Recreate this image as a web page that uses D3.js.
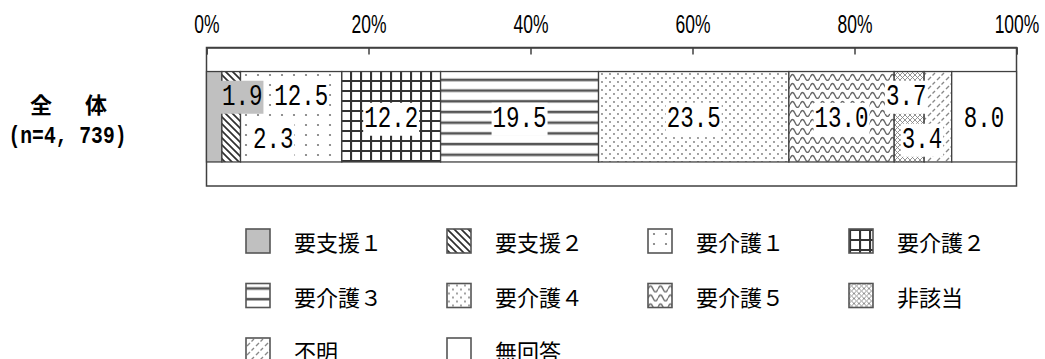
<!DOCTYPE html>
<html>
<head>
<meta charset="utf-8">
<script src="https://cdn.jsdelivr.net/npm/d3@7"></script>
<style>
  body { margin: 0; background: #fff; }
</style>
</head>
<body>
<div id="chart"></div>
<script>
// data
var categories = ["全体"];
var catTitle = "全　体";
var catCount = "(n=4, 739)";
var series = ["要支援１", "要支援２", "要介護１", "要介護２", "要介護３", "要介護４", "要介護５", "非該当", "不明", "無回答"];
var values = [1.9, 2.3, 12.5, 12.2, 19.5, 23.5, 13.0, 3.7, 3.4, 8.0];
var tickValues = [0, 20, 40, 60, 80, 100];
var tickLabels = ["0%", "20%", "40%", "60%", "80%", "100%"];

// hand placed labels for the thin segments (dx, dy from segment centre)
var labelNudge = {0: [28, -22], 1: [42, 21], 2: [10, -22], 7: [-3, -22], 8: [-16, 21]};

var width = 1045, height = 359;

var svg = d3.select("#chart")
  .append("svg")
    .attr("width", width)
    .attr("height", height);

// table for d3.stack
var row = {cat: categories[0]};
series.forEach(function(s, i) { row[s] = values[i]; });
var stacked = d3.stack().keys(series)([row]);

var x = d3.scaleLinear().domain([0, 100]).range([206.5, 1016.5]);
var y = d3.scaleBand().domain(categories).range([47.5, 186]).padding(0.21);

// patterns
var defs = svg.append("defs");
function pattern(id, w, h) {
  var p = defs.append("pattern")
    .attr("id", id)
    .attr("patternUnits", "userSpaceOnUse")
    .attr("width", w)
    .attr("height", h);
  p.append("rect").attr("width", w).attr("height", h).attr("fill", "#fff");
  return p;
}
pattern("p1", 7, 7).append("path")
  .attr("d", "M-1,-1 L8,8 M-1,6 L1,8 M6,-1 L8,1")
  .attr("stroke", "#303030").attr("stroke-width", 1.7);
pattern("p2", 12, 10).append("circle")
  .attr("cx", 6).attr("cy", 5).attr("r", 1.1).attr("fill", "#777");
pattern("p3", 10, 10).append("path")
  .attr("d", "M0,1 H10 M1,0 V10")
  .attr("stroke", "#333").attr("stroke-width", 2.2);
pattern("p4", 10, 10.7).append("path")
  .attr("d", "M0,5 H10")
  .attr("stroke", "#555").attr("stroke-width", 2.6);
var p5 = pattern("p5", 8, 8);
p5.append("circle").attr("cx", 2).attr("cy", 2).attr("r", 0.9).attr("fill", "#777");
p5.append("circle").attr("cx", 6).attr("cy", 6).attr("r", 0.9).attr("fill", "#777");
pattern("p6", 10, 9).append("path")
  .attr("d", "M0,5.5 Q2.5,-0.5 5,5.5 T10,5.5")
  .attr("fill", "none").attr("stroke", "#666").attr("stroke-width", 1.4);
pattern("p7", 5, 5).append("path")
  .attr("d", "M0,0 L5,5 M5,0 L0,5")
  .attr("stroke", "#888").attr("stroke-width", 0.9);
pattern("p8", 9, 9).append("path")
  .attr("d", "M1,8 L4,5 M5.5,3.5 L8,1")
  .attr("stroke", "#888").attr("stroke-width", 1.4);

var fills = ["#c0c0c0", "url(#p1)", "url(#p2)", "url(#p3)", "url(#p4)",
             "url(#p5)", "url(#p6)", "url(#p7)", "url(#p8)", "#fff"];

// plot area box
svg.append("rect")
  .attr("x", x(0))
  .attr("y", 47.5)
  .attr("width", x(100) - x(0))
  .attr("height", 186 - 47.5)
  .attr("fill", "none")
  .attr("stroke", "#404040")
  .attr("stroke-width", 1.5);

// bars
svg.append("g")
  .selectAll("rect")
  .data(stacked)
  .enter()
  .append("rect")
    .attr("x", function(d) { return x(d[0][0]); })
    .attr("y", y(categories[0]))
    .attr("width", function(d) { return x(d[0][1]) - x(d[0][0]); })
    .attr("height", y.bandwidth())
    .attr("fill", function(d, i) { return fills[i]; })
    .attr("stroke", "#404040")
    .attr("stroke-width", 1.3);

// axis on top
var axisG = svg.append("g")
  .attr("transform", "translate(0,47.5)")
  .call(d3.axisTop(x)
    .tickValues(tickValues)
    .tickFormat(function(d, i) { return tickLabels[i]; })
    .tickSize(-7)
    .tickPadding(15));
axisG.select(".domain").attr("stroke", "#404040").attr("stroke-width", 1.5);
axisG.selectAll(".tick line").attr("stroke", "#404040").attr("stroke-width", 1.5);
axisG.selectAll(".tick text")
  .attr("fill", "#000")
  .attr("transform", "scale(0.7,1)")
  .style("font-family", "'Liberation Sans', Arial, sans-serif")
  .style("font-size", "25px");

// value labels
var cy = y(categories[0]) + y.bandwidth() / 2;
var labels = svg.append("g")
  .selectAll("g")
  .data(stacked)
  .enter()
  .append("g")
    .attr("transform", function(d, i) {
      var nx = labelNudge[i] ? labelNudge[i][0] : 0;
      var ny = labelNudge[i] ? labelNudge[i][1] : 0;
      var cx = (x(d[0][0]) + x(d[0][1])) / 2;
      return "translate(" + (cx + nx) + "," + (cy + 10 + ny) + ")";
    });
labels.append("rect")
  .attr("x", function(d, i) { return -values[i].toFixed(1).length * 13.5 / 2 - 1; })
  .attr("y", -24)
  .attr("width", function(d, i) { return values[i].toFixed(1).length * 13.5 + 2; })
  .attr("height", 33)
  .attr("fill", function(d, i) { return i == 0 ? "#c0c0c0" : "#fff"; });
labels.append("text")
  .attr("transform", "scale(0.776,1)")
  .attr("text-anchor", "middle")
  .style("font-family", "'Liberation Mono', monospace")
  .style("font-size", "29px")
  .attr("fill", "#000")
  .text(function(d, i) { return values[i].toFixed(1); });

// category label on the left
svg.append("text")
  .attr("x", 30)
  .attr("y", cy - 4)
  .style("font-family", "'Noto Sans CJK JP', sans-serif")
  .style("font-size", "22px")
  .style("font-weight", "bold")
  .style("letter-spacing", "5.5px")
  .text(catTitle);
svg.append("text")
  .attr("transform", "translate(67.5," + (cy + 26) + ") scale(0.82,1)")
  .attr("text-anchor", "middle")
  .style("font-family", "'Liberation Mono', monospace")
  .style("font-size", "24px")
  .style("font-weight", "bold")
  .text(catCount);

// legend, 4 per row
var legend = svg.append("g")
  .selectAll("g")
  .data(series)
  .enter()
  .append("g")
    .attr("transform", function(d, i) {
      return "translate(" + (246 + (i % 4) * 201) + "," + (229 + Math.floor(i / 4) * 54.5) + ")";
    });
legend.append("rect")
  .attr("width", 24)
  .attr("height", 24)
  .attr("fill", function(d, i) { return fills[i]; })
  .attr("stroke", "#555")
  .attr("stroke-width", 1.6);
legend.append("text")
  .attr("x", 48)
  .attr("y", 12)
  .attr("dominant-baseline", "central")
  .style("font-family", "'Noto Sans CJK JP', sans-serif")
  .style("font-size", "22px")
  .attr("fill", "#000")
  .text(function(d) { return d; });
</script>
</body>
</html>
